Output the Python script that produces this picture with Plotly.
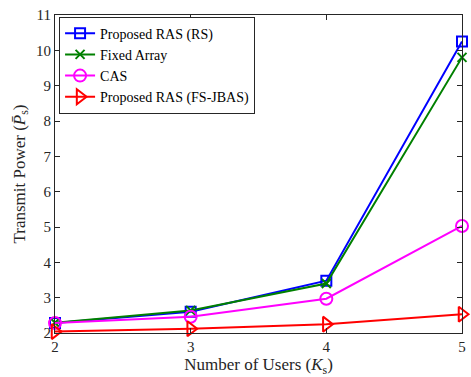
import plotly.graph_objects as go

users = [2, 3, 4, 5]
ras_rs = [2.28, 2.60, 3.48, 10.25]
fixed_array = [2.29, 2.64, 3.40, 9.80]
cas = [2.28, 2.46, 2.97, 5.03]
ras_fs_jbas = [2.04, 2.12, 2.25, 2.53]

series = [
    ("Proposed RAS (RS)", ras_rs, "#0000ff", "square-open", 10),
    ("Fixed Array", fixed_array, "#008000", "x-thin-open", 9),
    ("CAS", cas, "#ff00ff", "circle-open", 12),
    ("Proposed RAS (FS-JBAS)", ras_fs_jbas, "#ff0000", "triangle-right-open", 13),
]

fig = go.Figure()
for name, vals, color, sym, size in series:
    fig.add_trace(go.Scatter(
        x=users, y=vals, name=name, mode="lines+markers",
        line=dict(color=color, width=2),
        marker=dict(symbol=sym, size=size, color=color, line=dict(color=color, width=2)),
        cliponaxis=False,
    ))

font = "Liberation Serif"
fig.update_layout(
    width=471, height=377,
    margin=dict(l=55, r=5, t=15, b=42),
    paper_bgcolor="white", plot_bgcolor="white",
    font=dict(family=font, size=15, color="#262626"),
    showlegend=True,
    legend=dict(
        x=0.01, y=0.995, xanchor="left", yanchor="top",
        bgcolor="white", bordercolor="#262626", borderwidth=1,
        font=dict(family=font, size=14, color="black"),
        tracegroupgap=0, itemwidth=30,
    ),
    xaxis=dict(
        range=[2, 5], tickvals=users, ticks="inside", ticklen=5,
        showgrid=False, zeroline=False, showline=True, mirror="ticks",
        linecolor="#262626", linewidth=1, tickcolor="#262626",
        title=dict(text="Number of Users (<i>K</i><sub>s</sub>)", font=dict(size=17), standoff=5),
    ),
    yaxis=dict(
        range=[2, 11], dtick=1, ticks="inside", ticklen=5,
        showgrid=False, zeroline=False, showline=True, mirror="ticks",
        linecolor="#262626", linewidth=1, tickcolor="#262626",
        title=dict(text="Transmit Power (<i>P\u0304</i><sub>s</sub>)", font=dict(size=17), standoff=6),
    ),
)

fig.write_html("out.html", config={"displayModeBar": False},
               post_script="document.body.style.margin='0';document.body.style.overflow='hidden';")
